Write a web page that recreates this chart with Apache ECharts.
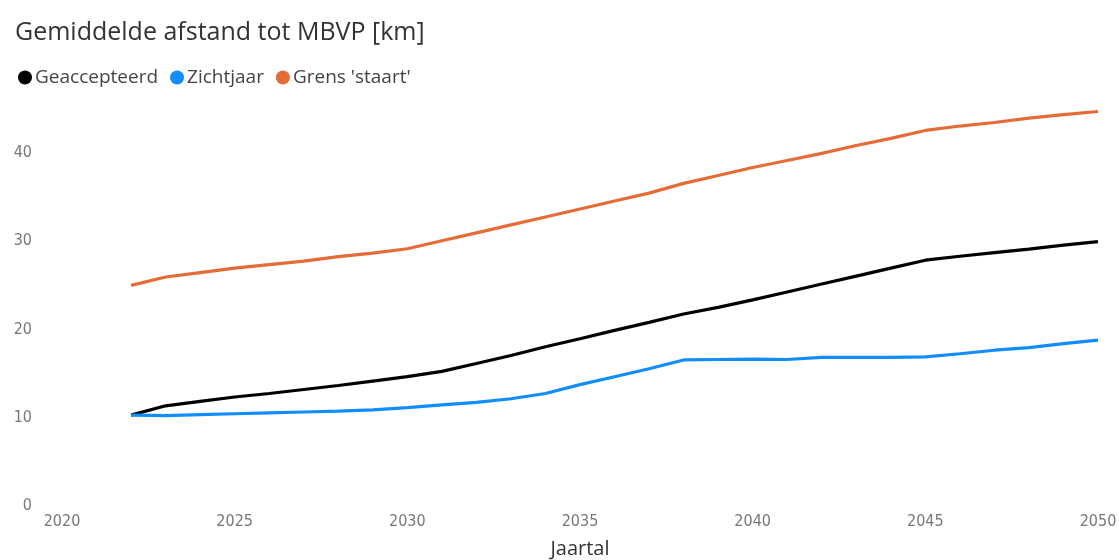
<!DOCTYPE html>
<html>
<head>
<meta charset="utf-8">
<script src="https://cdn.jsdelivr.net/npm/echarts@6/dist/echarts.min.js"></script>
<style>
html,body{margin:0;padding:0;background:#fff;}
#c{width:1119px;height:560px;}
</style>
</head>
<body>
<div id="c"></div>
<script>
const years = [2022,2023,2024,2025,2026,2027,2028,2029,2030,2031,2032,2033,2034,2035,2036,2037,2038,2039,2040,2041,2042,2043,2044,2045,2046,2047,2048,2049,2050];
const geaccepteerd = [10.3,11.35,11.85,12.35,12.75,13.2,13.65,14.15,14.65,15.25,16.15,17.05,18.05,18.95,19.9,20.8,21.75,22.5,23.35,24.25,25.15,26.05,26.95,27.85,28.3,28.7,29.1,29.55,29.95];
const zichtjaar = [10.3,10.25,10.35,10.45,10.55,10.65,10.75,10.9,11.15,11.45,11.75,12.15,12.75,13.75,14.65,15.55,16.55,16.6,16.65,16.6,16.85,16.85,16.85,16.9,17.25,17.65,17.95,18.4,18.8];
const grensStaart = [25.0,25.95,26.45,26.95,27.35,27.75,28.25,28.65,29.15,30.05,30.95,31.85,32.75,33.65,34.55,35.45,36.55,37.45,38.35,39.15,39.95,40.85,41.65,42.55,43.05,43.45,43.95,44.35,44.7];
const seriesNames = ["Geaccepteerd","Zichtjaar","Grens 'staart'"];
const colors = ["#000000","#118DFF","#E66C37"];
const xTicks = [2020,2025,2030,2035,2040,2045,2050];
const yTicks = [0,10,20,30,40];

const allValues = [geaccepteerd, zichtjaar, grensStaart];
const chart = echarts.init(document.getElementById('c'), null, {renderer:'canvas'});
const labelFont = "'DejaVu Sans Condensed',sans-serif";
chart.setOption({
  animation:false,
  backgroundColor:'#ffffff',
  title:{
    text:'Gemiddelde afstand tot MBVP [km]',
    left:10, top:15,
    textStyle:{fontFamily:'Open Sans', fontSize:25, fontWeight:'normal', color:'#333333'}
  },
  legend:{
    left:13, top:63,
    icon:'circle', itemWidth:14, itemHeight:14, itemGap:12,
    textStyle:{fontFamily:'Open Sans', fontSize:19, color:'#444444', padding:[0,0,0,-2]},
    data:seriesNames
  },
  grid:{left:62, right:21, top:100, bottom:54, containLabel:false, outerBoundsMode:'none'},
  xAxis:{
    type:'value', min:2020, max:2050, interval:5,
    name:'Jaartal', nameLocation:'middle', nameGap:33,
    nameTextStyle:{fontFamily:'Open Sans', fontSize:20, color:'#333333'},
    axisLine:{show:false}, axisTick:{show:false}, splitLine:{show:false},
    axisLabel:{margin:8, fontFamily:labelFont, fontSize:16, color:'#777777',
      formatter:(v)=> xTicks.includes(v) ? String(v) : ''}
  },
  yAxis:{
    type:'value', min:0, max:46, interval:10,
    axisLine:{show:false}, axisTick:{show:false}, splitLine:{show:false},
    axisLabel:{margin:30, fontFamily:labelFont, fontSize:16, color:'#777777', showMaxLabel:false,
      formatter:(v)=> yTicks.includes(v) ? String(v) : ''}
  },
  series: seriesNames.map((n,i)=>({
    name:n, type:'line', showSymbol:false, symbol:'circle',
    color:colors[i],
    lineStyle:{width:3.2, color:colors[i]},
    data: years.map((y,k)=>[y, allValues[i][k]])
  }))
});
</script>
</body>
</html>
